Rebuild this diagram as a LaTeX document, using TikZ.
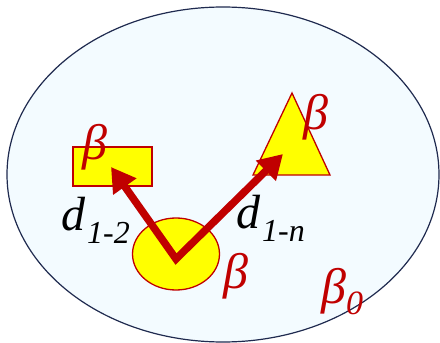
\documentclass[tikz,border=0pt]{standalone}
\usepackage{fontspec}
\setmainfont{Liberation Serif}
\usetikzlibrary{arrows.meta,shapes.geometric}
\definecolor{darkred}{HTML}{C00000}
\definecolor{paleblue}{HTML}{F3FBFF}
\definecolor{navy}{HTML}{1F2A4F}
\definecolor{yel}{HTML}{FFFF00}
\tikzset{
  shapestyle/.style={draw=darkred, fill=yel, line width=1.3pt},
  betalabel/.style={text=darkred, font=\fontsize{50}{50}\selectfont\itshape, inner sep=0pt, anchor=base},
  dlabel/.style={text=black, font=\fontsize{48}{48}\selectfont\itshape, inner sep=0pt, anchor=base west},
  distarrow/.style={draw=darkred, line width=7.5pt, line join=miter,
    {Triangle[length=24pt,width=27pt]}-{Triangle[length=24pt,width=27pt]}}
}
\newcommand{\mysub}[1]{\kern2pt\raisebox{-13pt}{\fontsize{32}{32}\selectfont #1}}
\begin{document}
\begin{tikzpicture}[x=1pt,y=-1pt]
\useasboundingbox (0,0) rectangle (440,343);
% universe ellipse
\draw[draw=navy, fill=paleblue, line width=1.2pt] (223,174.5) ellipse [x radius=216, y radius=167.5];
% shapes
\node[shapestyle, rectangle, minimum width=79pt, minimum height=39pt, inner sep=0pt] (rect) at (112.5,166.5) {};
\draw[shapestyle] (292,93) coordinate (apex) -- (330,175) coordinate (tr) -- (253,175) coordinate (tl) -- cycle;
\node[shapestyle, ellipse, minimum width=87pt, minimum height=72pt, inner sep=0pt] (circ) at (176,254) {};
% arrows
\coordinate (o) at (176,259);
\coordinate (t1) at (111,167);
\coordinate (t2) at (283,154);
\path[distarrow] (t1) -- (o) -- (t2);
% labels
\node[betalabel] (b1) at (95,159) {β};
\node[betalabel] (b2) at (316,129) {β};
\node[betalabel] (b3) at (236,288) {β};
\node[betalabel, anchor=base west] (b0) at (321,303) {β\raisebox{-11pt}{\fontsize{34}{34}\selectfont 0}};
\node[dlabel] (d12) at (61,230) {d\mysub{1-2}};
\node[dlabel] (d1n) at (236,228) {d\mysub{1-n}};
\end{tikzpicture}
\end{document}
